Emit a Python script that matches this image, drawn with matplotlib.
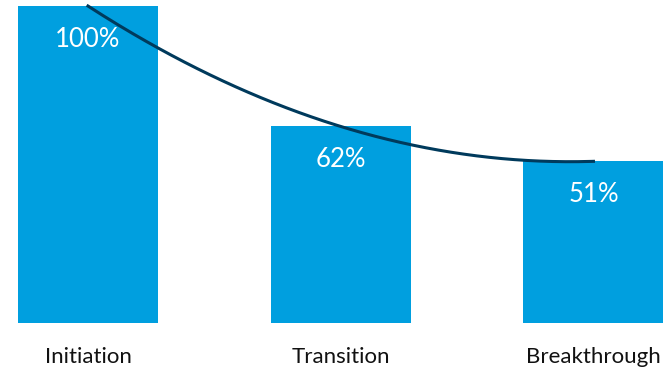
import numpy as np
import matplotlib
matplotlib.use("Agg")
import matplotlib.pyplot as plt

# Data
stages = ["Initiation", "Transition", "Breakthrough"]
values = [100, 62, 51]
labels = ["100%", "62%", "51%"]

plt.rcParams["font.family"] = ["Lato", "DejaVu Sans"]

fig = plt.figure(figsize=(6.67, 3.67), dpi=100)
ax = fig.add_axes([0, 44 / 367, 1, 317 / 367])

x = np.arange(len(stages))
ax.bar(x, values, width=0.554, color="#009FDF")

# Smooth trend curve through the bar tops (2nd order polynomial)
coef = np.polyfit(x, values, 2)
xs = np.linspace(x[0], x[-1], 200)
ax.plot(xs, np.polyval(coef, xs), color="#003A5C", linewidth=2.2, clip_on=False)

# Value labels inside bars
for xi, v, lab in zip(x, values, labels):
    ax.annotate(lab, (xi, v), xytext=(0, -24), textcoords="offset points",
                ha="center", va="center", color="white", fontsize=18.5)

ax.set_xlim(-0.348, 2.291)
ax.set_ylim(0, 100)
ax.set_xticks(x)
ax.set_xticklabels(stages, fontsize=16, color="#111111")
ax.tick_params(axis="x", length=0, pad=17)
ax.set_yticks([])
for s in ax.spines.values():
    s.set_visible(False)

fig.savefig("out.png", dpi=100)
